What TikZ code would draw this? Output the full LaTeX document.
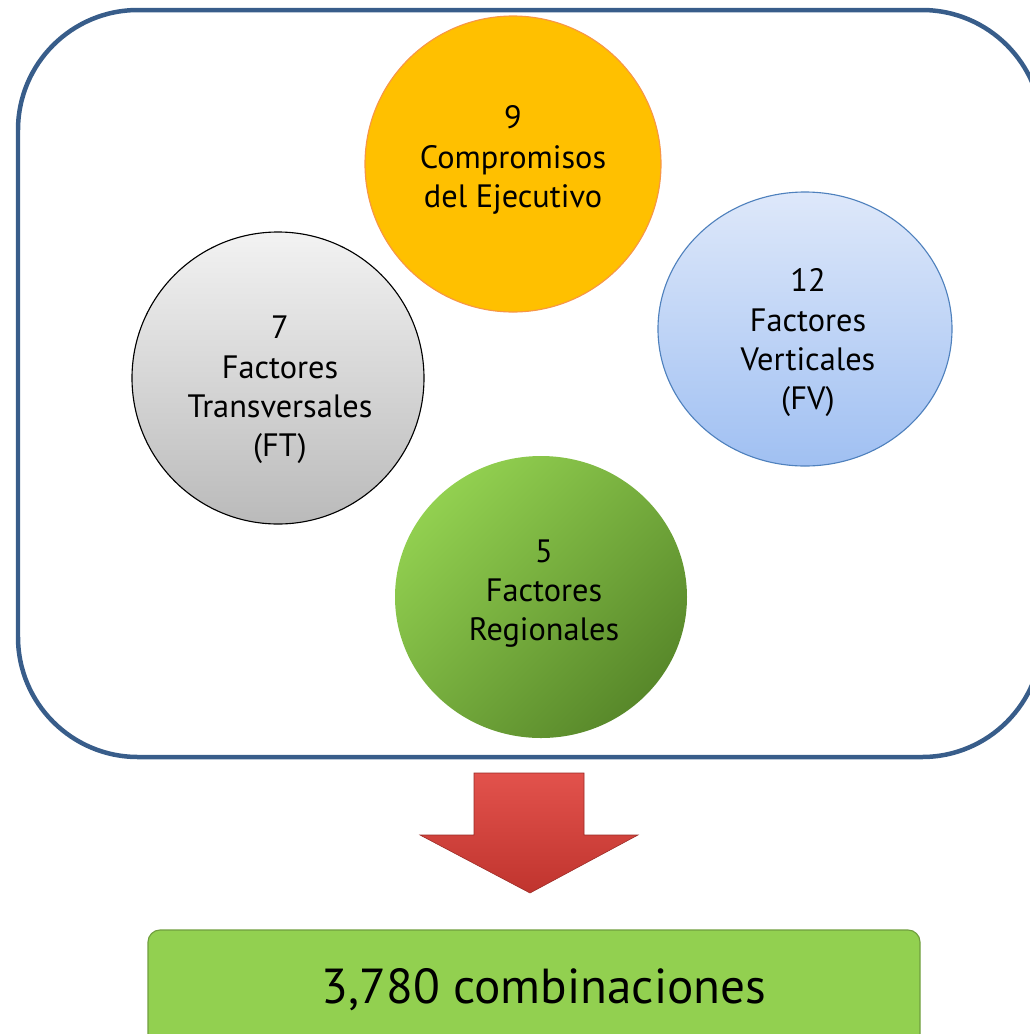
\documentclass[tikz,border=0pt]{standalone}
\usepackage{fontspec}
\setmainfont{PT Sans}
\usetikzlibrary{shapes.geometric}

\definecolor{frameblue}{RGB}{56,93,138}
\definecolor{orangefill}{RGB}{255,192,0}
\definecolor{orangeline}{RGB}{247,150,70}
\definecolor{bluetop}{RGB}{222,232,250}
\definecolor{bluebot}{RGB}{160,192,242}
\definecolor{blueline}{RGB}{79,129,189}
\definecolor{greenlight}{RGB}{146,208,80}
\definecolor{greendark}{RGB}{88,136,42}
\definecolor{arrowtop}{RGB}{226,82,76}
\definecolor{arrowbot}{RGB}{192,52,46}
\definecolor{resline}{RGB}{112,158,62}

\tikzset{
  factor/.style={circle, inner sep=0pt},
  lbl/.style={align=center, font=\fontsize{23}{28}\selectfont},
}

\begin{document}
\begin{tikzpicture}
    \useasboundingbox (0,0) rectangle (25.75,-25.85);

    % Outer frame
    \draw[frameblue, line width=3.2pt, rounded corners=3cm] (0.45,-0.25) rectangle (26.05,-18.925);

    % Compromisos del Ejecutivo
    \node[factor, minimum size=7.4cm, fill=orangefill, draw=orangeline, thick] (cej) at (12.825,-4.1) {};
    \node[lbl] (cejlbl) at (12.825,-4.0) {9\\Compromisos\\del Ejecutivo};

    % Factores Transversales
    \node[factor, minimum size=7.3cm, top color=black!5, bottom color=black!27, draw=black, thick] (ft) at (6.95,-9.45) {};
    \node[lbl] (ftlbl) at (7.0,-9.75) {7\\Factores\\Transversales\\(FT)};

    % Factores Verticales
    \node[ellipse, inner sep=0pt, minimum width=7.35cm, minimum height=6.85cm,
          top color=bluetop, bottom color=bluebot, draw=blueline, thick] (fv) at (20.125,-8.225) {};
    \node[lbl] (fvlbl) at (20.2,-8.57) {12\\Factores\\Verticales\\(FV)};

    % Factores Regionales
    \node[ellipse, inner sep=0pt, minimum width=7.3cm, minimum height=7.05cm,
          left color=greenlight, right color=greendark, shading angle=45] (fr) at (13.525,-14.925) {};
    \node[lbl] (frlbl) at (13.6,-14.84) {5\\Factores\\Regionales};

    % Down arrow
    \shade[top color=arrowtop, bottom color=arrowbot, draw=arrowbot!80!black, thin]
      (11.85,-19.325) -- (14.6,-19.325) -- (14.6,-20.875) -- (15.95,-20.875)
      -- (13.25,-22.325) -- (10.5,-20.875) -- (11.85,-20.875) -- cycle;

    % Result
    \node[draw=resline, fill=greenlight, thick, rounded corners=0.3cm,
          minimum width=19.3cm, minimum height=2.9cm] (total) at (13.35,-24.7) {};
    \node[font=\fontsize{35}{40}\selectfont] (totallbl) at (13.6,-24.74) {3,780 combinaciones};
\end{tikzpicture}
\end{document}
